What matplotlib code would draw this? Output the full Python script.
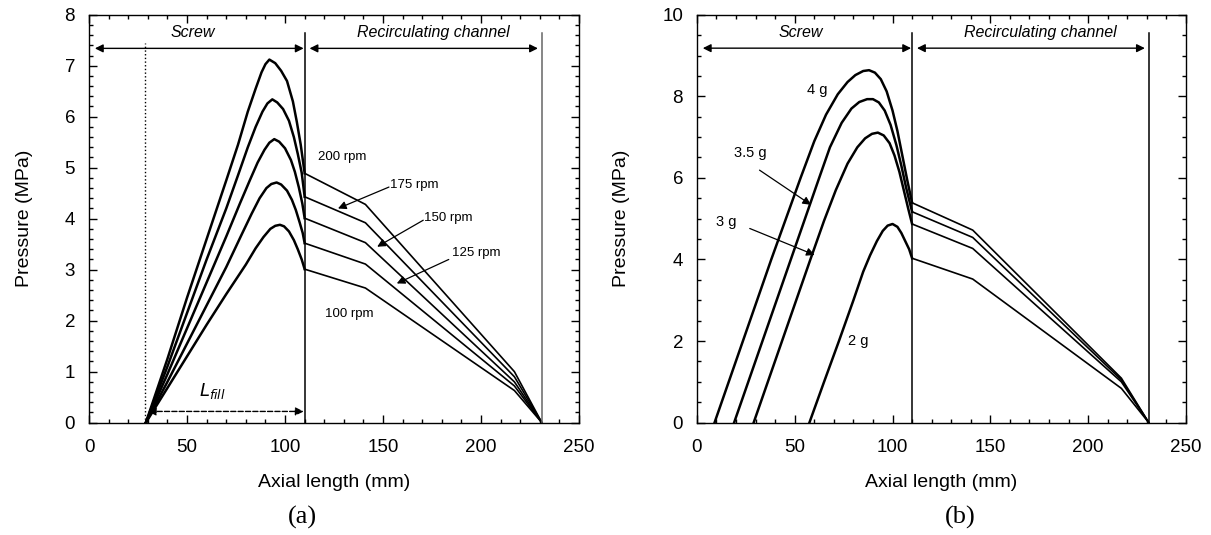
import numpy as np
import matplotlib.pyplot as plt
from matplotlib.ticker import MultipleLocator

plt.rcParams['font.family'] = ['Liberation Sans', 'DejaVu Sans']

# 图(a) 螺杆段压力曲线 (转速)
rpm_labels = ['200 rpm', '175 rpm', '150 rpm', '125 rpm', '100 rpm']
a_screw_x = [
    [29, 40, 50, 60, 70, 76, 81, 85, 88, 90, 92, 95, 98, 101, 104, 106, 108, 110],
    [29, 40, 50, 60, 70, 76, 81, 85, 88.5, 91, 93.5, 96, 99, 102, 104.5, 106.5, 108.5, 110],
    [29, 40, 50, 60, 70, 77, 82, 86, 89.5, 92, 94.5, 97, 100, 103, 105, 107, 108.8, 110],
    [29, 40, 50, 60, 70, 78, 83, 87, 90.5, 93, 95.7, 98, 101, 103.5, 105.5, 107.5, 109, 110],
    [29, 40, 50, 60, 70, 80, 85, 89, 92.5, 95, 97.4, 99.5, 102, 104.5, 106.5, 108.5, 110],
]
a_screw_y = [
    [0, 1.25, 2.45, 3.6, 4.75, 5.45, 6.1, 6.55, 6.87, 7.03, 7.12, 7.05, 6.9, 6.7, 6.3, 5.9, 5.45, 4.89],
    [0, 1.1, 2.15, 3.2, 4.2, 4.85, 5.4, 5.8, 6.1, 6.26, 6.34, 6.28, 6.15, 5.92, 5.6, 5.27, 4.9, 4.43],
    [0, 0.95, 1.85, 2.75, 3.65, 4.3, 4.75, 5.1, 5.35, 5.49, 5.56, 5.51, 5.38, 5.15, 4.92, 4.62, 4.3, 4.01],
    [0, 0.8, 1.55, 2.3, 3.05, 3.7, 4.1, 4.4, 4.6, 4.68, 4.71, 4.67, 4.55, 4.37, 4.17, 3.92, 3.72, 3.52],
    [0, 0.68, 1.3, 1.92, 2.52, 3.1, 3.42, 3.64, 3.8, 3.86, 3.88, 3.85, 3.75, 3.58, 3.4, 3.2, 3.01],
]
# 回流通道 (a)
channel_x = [110, 141, 217, 231]
a_channel_y = [
    [4.89, 4.28, 1.0, 0],
    [4.43, 3.92, 0.9, 0],
    [4.01, 3.53, 0.8, 0],
    [3.52, 3.11, 0.72, 0],
    [3.01, 2.64, 0.63, 0],
]

# 图(b) 填充量
mass_labels = ['4 g', '3.5 g', '3 g', '2 g']
b_screw_x = [
    [9, 23.5, 38, 53, 60, 66, 72, 77, 81, 85, 88, 91, 94, 97, 100, 102.5, 105, 107.5, 110],
    [19, 33.5, 48, 62.5, 68, 74, 79, 83, 87, 90, 93, 96, 99, 102, 104.5, 107, 110],
    [29, 43.5, 58, 65, 71, 77, 82, 86, 89.5, 92.5, 95.5, 98.5, 101, 103.5, 106, 108, 110],
    [57.5, 65, 72.6, 80, 85, 88.5, 92, 95, 97.5, 100, 102.5, 104.5, 106.5, 108.5, 110],
]
b_screw_y = [
    [0, 2, 4, 6, 6.9, 7.55, 8.05, 8.35, 8.52, 8.62, 8.64, 8.58, 8.42, 8.12, 7.65, 7.15, 6.55, 5.95, 5.39],
    [0, 2, 4, 6, 6.75, 7.35, 7.7, 7.86, 7.93, 7.93, 7.85, 7.65, 7.3, 6.8, 6.3, 5.75, 5.17],
    [0, 2, 4, 4.95, 5.7, 6.35, 6.75, 6.97, 7.08, 7.11, 7.04, 6.85, 6.55, 6.15, 5.65, 5.25, 4.87],
    [0, 1, 2, 3, 3.7, 4.1, 4.45, 4.7, 4.83, 4.87, 4.8, 4.65, 4.45, 4.25, 4.03],
]
b_channel_y = [
    [5.39, 4.72, 1.09, 0],
    [5.17, 4.54, 1.05, 0],
    [4.87, 4.27, 1.0, 0],
    [4.03, 3.52, 0.84, 0],
]

x_fill = 28.6
x_screw_end = 110
x_channel_end = 231

fig = plt.figure(figsize=(12.11, 5.35), dpi=100)
ax1 = fig.add_axes([0.0735, 0.21, 0.4047, 0.7625])
ax2 = fig.add_axes([0.5755, 0.21, 0.4038, 0.7625])


def style_axis(ax, ymax, ymajor, yminor):
    ax.set_xlim(0, 250)
    ax.set_ylim(0, ymax)
    ax.xaxis.set_major_locator(MultipleLocator(50))
    ax.xaxis.set_minor_locator(MultipleLocator(10))
    ax.yaxis.set_major_locator(MultipleLocator(ymajor))
    ax.yaxis.set_minor_locator(MultipleLocator(yminor))
    ax.tick_params(which='both', direction='in', top=True, right=True,
                   labelsize=13.5, width=1)
    ax.tick_params(which='major', length=6)
    ax.tick_params(which='minor', length=3)
    ax.tick_params(axis='x', which='major', pad=12)
    ax.tick_params(axis='y', which='major', pad=10)
    for s in ax.spines.values():
        s.set_linewidth(1)
    ax.set_xlabel('Axial length (mm)', fontsize=14, labelpad=13)
    ax.set_ylabel('Pressure (MPa)', fontsize=14, labelpad=23)


def region_marks(ax, ytop, yarrow, ytext, end_color):
    ax.plot([x_screw_end, x_screw_end], [0, ytop], color='k', lw=1.1)
    ax.plot([x_channel_end, x_channel_end], [0, ytop], color=end_color, lw=1.1)
    ax.annotate('', xy=(3, yarrow), xytext=(x_screw_end - 0.5, yarrow),
                arrowprops=dict(arrowstyle='<|-|>', color='k', lw=1,
                                mutation_scale=12, shrinkA=0, shrinkB=0))
    ax.annotate('', xy=(x_screw_end + 2.5, yarrow), xytext=(229, yarrow),
                arrowprops=dict(arrowstyle='<|-|>', color='k', lw=1,
                                mutation_scale=12, shrinkA=0, shrinkB=0))
    ax.text(53, ytext, 'Screw', style='italic', fontsize=11.5,
            ha='center', va='center')
    ax.text(175.5, ytext, 'Recirculating channel', style='italic',
            fontsize=11.5, ha='center', va='center')


# ---- (a) ----
for xs, ys in zip(a_screw_x, a_screw_y):
    ax1.plot(xs, ys, color='k', lw=1.8)
for ys in a_channel_y:
    ax1.plot(channel_x, ys, color='k', lw=1.2)
region_marks(ax1, 7.64, 7.34, 7.66, '0.4')
ax1.plot([x_fill, x_fill], [0, 7.45], color='k', lw=1, ls=':')
ax1.annotate('', xy=(30, 0.22), xytext=(x_screw_end - 0.5, 0.22),
             arrowprops=dict(arrowstyle='<|-|>', color='k', lw=1, ls='--',
                             mutation_scale=12, shrinkA=0, shrinkB=0))
ax1.text(63, 0.62, r'$L_{fill}$', fontsize=13, ha='center', va='center')

ax1.text(129, 5.2, rpm_labels[0], fontsize=9.5, ha='center', va='center')
ax1.text(133, 2.14, rpm_labels[4], fontsize=9.5, ha='center', va='center')
a_label_xy = [(153.5, 4.66), (171, 4.01), (185, 3.32)]
a_tip_xy = [(127, 4.2), (147, 3.45), (157, 2.73)]
a_tail_xy = [(153, 4.62), (170.5, 3.97), (183.5, 3.2)]
for lab, txy, tip, tail in zip(rpm_labels[1:4], a_label_xy, a_tip_xy, a_tail_xy):
    ax1.text(txy[0], txy[1], lab, fontsize=9.5, ha='left', va='center')
    ax1.annotate('', xy=tip, xytext=tail,
                 arrowprops=dict(arrowstyle='-|>', color='k', lw=0.9,
                                 mutation_scale=12, shrinkA=0, shrinkB=0))
style_axis(ax1, 8, 1, 0.2)

# ---- (b) ----
for xs, ys in zip(b_screw_x, b_screw_y):
    ax2.plot(xs, ys, color='k', lw=1.8)
for ys in b_channel_y:
    ax2.plot(channel_x, ys, color='k', lw=1.2)
region_marks(ax2, 9.54, 9.18, 9.56, 'k')

ax2.text(61.4, 8.15, mass_labels[0], fontsize=10.5, ha='center', va='center')
ax2.text(82.3, 1.99, mass_labels[3], fontsize=10.5, ha='center', va='center')
b_label_xy = [(27.3, 6.6), (14.8, 4.93)]
b_tip_xy = [(58.3, 5.34), (60.2, 4.11)]
b_tail_xy = [(32, 6.19), (27, 4.76)]
for lab, txy, tip, tail in zip(mass_labels[1:3], b_label_xy, b_tip_xy, b_tail_xy):
    ax2.text(txy[0], txy[1], lab, fontsize=10.5, ha='center', va='center')
    ax2.annotate('', xy=tip, xytext=tail,
                 arrowprops=dict(arrowstyle='-|>', color='k', lw=0.9,
                                 mutation_scale=12, shrinkA=0, shrinkB=0))
style_axis(ax2, 10, 2, 0.5)

fig.text(0.25, 0.032, '(a)', fontsize=19, family=['Liberation Serif', 'DejaVu Serif'],
         ha='center', va='center')
fig.text(0.793, 0.032, '(b)', fontsize=19, family=['Liberation Serif', 'DejaVu Serif'],
         ha='center', va='center')

fig.savefig('out.png', dpi=100)
